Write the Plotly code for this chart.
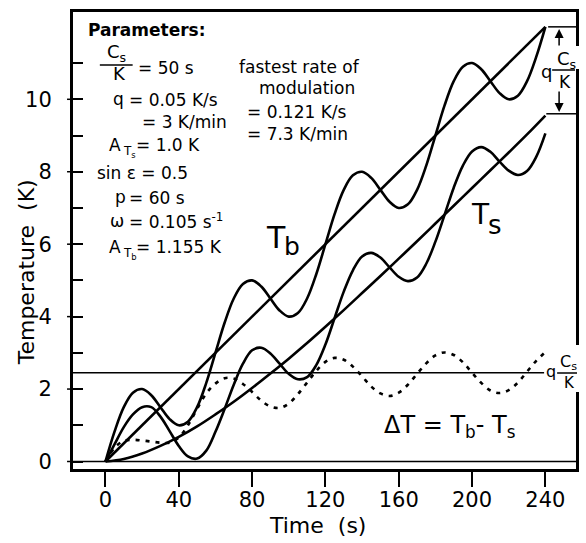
import plotly.graph_objects as go

# ---------------- data ----------------
time_s = [0, 5, 10, 15, 20, 25, 30, 35, 40, 45, 50, 55, 60, 65, 70, 75, 80, 85, 90, 95,
          100, 105, 110, 115, 120, 125, 130, 135, 140, 145, 150, 155, 160, 165, 170, 175,
          180, 185, 190, 195, 200, 205, 210, 215, 220, 225, 230, 235, 240]

T_b = [0, 0.83, 1.5, 1.9, 2.0, 1.83, 1.5, 1.17, 1.0, 1.1, 1.5, 2.17, 3.0, 3.83, 4.5, 4.9,
       5.0, 4.83, 4.5, 4.17, 4.0, 4.1, 4.5, 5.17, 6.0, 6.83, 7.5, 7.9, 8.0, 7.83, 7.5, 7.17,
       7.0, 7.1, 7.5, 8.17, 9.0, 9.83, 10.5, 10.9, 11.0, 10.83, 10.5, 10.17, 10.0, 10.1,
       10.5, 11.17, 12.0]

T_s = [0, 0.48, 0.95, 1.3, 1.5, 1.5, 1.24, 0.84, 0.43, 0.14, 0.08, 0.3, 0.82, 1.45, 2.12,
       2.7, 3.07, 3.14, 2.98, 2.7, 2.42, 2.27, 2.33, 2.66, 3.23, 3.96, 4.69, 5.28, 5.66, 5.76,
       5.63, 5.36, 5.1, 4.98, 5.08, 5.46, 6.07, 6.81, 7.56, 8.17, 8.56, 8.68, 8.55, 8.28,
       8.03, 7.91, 8.02, 8.41, 9.06]

delta_T = [0, 0.38, 0.57, 0.6, 0.58, 0.55, 0.52, 0.52, 0.66, 1.0, 1.45, 1.88, 2.15, 2.3,
           2.29, 2.14, 1.92, 1.68, 1.52, 1.48, 1.6, 1.86, 2.18, 2.5, 2.75, 2.86, 2.81, 2.62,
           2.35, 2.07, 1.88, 1.81, 1.9, 2.12, 2.42, 2.71, 2.93, 3.01, 2.94, 2.74, 2.45, 2.17,
           1.96, 1.89, 1.97, 2.18, 2.48, 2.78, 3.02]

mean_time = [0, 10, 20, 30, 40, 50, 60, 70, 80, 90, 100, 110, 120, 130, 140, 150, 160,
             170, 180, 190, 200, 210, 220, 230, 240]
T_s_mean = [0, 0.07, 0.22, 0.43, 0.68, 0.97, 1.3, 1.65, 2.03, 2.43, 2.84, 3.27, 3.72,
            4.18, 4.65, 5.12, 5.6, 6.08, 6.57, 7.06, 7.55, 8.04, 8.53, 9.03, 9.55]

Tb_line_time = [0, 240]
Tb_line_T = [0, 12.0]

steady_offset = 2.45          # q*Cs/K level drawn in the figure
offset_top, offset_bottom = 12.0, 9.6

x_ticks = [0, 40, 80, 120, 160, 200, 240]
y_ticks = [0, 2, 4, 6, 8, 10]
y_minor = [1, 3, 5, 7, 9, 11]

# ---------------- layout geometry ----------------
FONT = "DejaVu Sans"
L, R, T, B = 73, 579, 12, 469          # plot-area pixel box
W, H = R - L, B - T
XR = [-17.7, 256.7]
YR = [-0.207, 12.41]


def P(px, py):
    return (px - L) / W, (B - py) / H


fig = go.Figure()
line_style = dict(color="black", width=2.6, shape="spline")

fig.add_trace(go.Scatter(x=time_s, y=T_b, mode="lines", line=line_style))
fig.add_trace(go.Scatter(x=time_s, y=T_s, mode="lines", line=line_style))
fig.add_trace(go.Scatter(x=mean_time, y=T_s_mean, mode="lines", line=line_style))
fig.add_trace(go.Scatter(x=Tb_line_time, y=Tb_line_T, mode="lines",
                         line=dict(color="black", width=2.6)))
fig.add_trace(go.Scatter(x=time_s, y=delta_T, mode="lines",
                         line=dict(color="black", width=2.6, shape="spline", dash="4px,6px")))
# reference horizontal lines
fig.add_trace(go.Scatter(x=[XR[0], 239.3], y=[steady_offset, steady_offset], mode="lines",
                         line=dict(color="black", width=1.5)))
fig.add_trace(go.Scatter(x=[XR[0], XR[1]], y=[0, 0], mode="lines",
                         line=dict(color="black", width=1.5)))
fig.add_trace(go.Scatter(x=[241.5, XR[1]], y=[offset_top, offset_top], mode="lines",
                         line=dict(color="black", width=1.5)))
fig.add_trace(go.Scatter(x=[240.5, XR[1]], y=[offset_bottom, offset_bottom], mode="lines",
                         line=dict(color="black", width=1.5)))

fig.update_layout(
    width=586, height=543, showlegend=False,
    margin=dict(l=L, r=586 - R, t=T, b=543 - B),
    paper_bgcolor="white", plot_bgcolor="white",
    font=dict(family=FONT, color="black"),
    xaxis=dict(range=XR, tickvals=x_ticks, ticks="outside", ticklen=15, tickwidth=1.5,
               tickcolor="black", showgrid=False, zeroline=False, showline=True,
               linewidth=3, linecolor="black", mirror=True, ticklabelstandoff=-5,
               tickfont=dict(family=FONT, size=21, color="black")),
    yaxis=dict(range=YR, tickvals=y_ticks, ticks="inside", ticklen=10, tickwidth=1.5,
               tickcolor="black", showgrid=False, zeroline=False, showline=True,
               linewidth=3, linecolor="black", mirror=True, ticklabelstandoff=14,
               minor=dict(tickvals=y_minor, ticks="inside", ticklen=10, tickwidth=1.5,
                          tickcolor="black"),
               tickfont=dict(family=FONT, size=21, color="black")),
)

# outside stubs of the y major ticks
for v in y_ticks:
    fig.add_shape(type="line", xref="paper", yref="y", x0=-6 / W, x1=0, y0=v, y1=v,
                  line=dict(color="black", width=1.5))

# white gaps in the right frame behind the q*Cs/K labels
for (y0, y1) in [(46, 69), (345, 392)]:
    fig.add_shape(type="rect", xref="paper", yref="paper", layer="above",
                  x0=(574 - L) / W, x1=(585 - L) / W, y0=(B - y1) / H, y1=(B - y0) / H,
                  line=dict(width=0), fillcolor="white")


def note(text, px, py, size=17, xa="left", ya="middle"):
    x, y = P(px, py)
    fig.add_annotation(x=x, y=y, xref="paper", yref="paper", text=text, showarrow=False,
                       xanchor=xa, yanchor=ya, font=dict(family=FONT, size=size, color="black"))


def bar(px0, px1, py):
    x0, y = P(px0, py)
    x1, _ = P(px1, py)
    fig.add_shape(type="line", xref="paper", yref="paper", layer="above",
                  x0=x0, x1=x1, y0=y, y1=y, line=dict(color="black", width=1.5))


# axis titles
note("Time  (s)", 319, 525, size=22, xa="center")
x, y = P(26, 272)
fig.add_annotation(x=x, y=y, xref="paper", yref="paper", text="Temperature  (K)",
                   textangle=-90, showarrow=False, xanchor="center", yanchor="middle",
                   font=dict(family=FONT, size=22, color="black"))

# parameter block
note("<b>Parameters:</b>", 86, 30, size=17)
note("C<sub>s</sub>", 117, 53, size=18, xa="center")
bar(100, 133, 65)
note("K", 119.5, 74, size=18, xa="center")
note("= 50 s", 136, 68)
note("q", 111, 99)
note("= 0.05 K/s", 127, 100)
note("= 3 K/min", 140, 122)
note("A", 107, 145)
note("T<sub>s</sub>", 121, 152, size=12)
note("= 1.0 K", 134, 145)
note("sin ε = 0.5", 95, 173)
note("p", 113, 197)
note("= 60 s", 127, 198)
note("ω", 108, 221)
note("= 0.105 s<sup>-1</sup>", 127, 221)
note("A", 107, 247)
note("T<sub>b</sub>", 121, 254, size=12)
note("= 1.155 K", 134, 247)

# modulation rate block
note("fastest rate of", 301, 67, xa="center")
note("modulation", 308, 88, xa="center")
note("= 0.121 K/s", 246, 112)
note("= 7.3 K/min", 246, 134)

# curve labels
note("T", 277.5, 237, size=30, xa="center")
note("b", 293, 246, size=25, xa="center")
note("T", 482.5, 215, size=28, xa="center")
note("s", 498, 225, size=26, xa="center")
note("ΔT = T<sub>b</sub>- T<sub>s</sub>", 452, 426, size=24, xa="center")

# q*Cs/K labels at the right
note("q", 549, 71, size=18, xa="center")
note("C<sub>s</sub>", 569, 60, size=18, xa="center")
bar(555, 578, 70)
note("K", 568, 82, size=17, xa="center")

note("q", 554, 371, size=16, xa="center")
note("C<sub>s</sub>", 571, 362, size=16, xa="center")
bar(560, 580, 373)
note("K", 572, 383, size=15, xa="center")

# arrows of the q*Cs/K bracket (head position, tail offset in pixels)
for (head, tail) in [((562, 29), (562, 47)), ((562, 112), (562, 90))]:
    hx, hy = P(*head)
    fig.add_annotation(x=hx, y=hy, xref="paper", yref="paper",
                       ax=tail[0] - head[0], ay=tail[1] - head[1], axref="pixel", ayref="pixel",
                       text="", showarrow=True,
                       arrowhead=2, arrowsize=1.2, arrowwidth=1.5, arrowcolor="black")

fig.write_html("out.html")
